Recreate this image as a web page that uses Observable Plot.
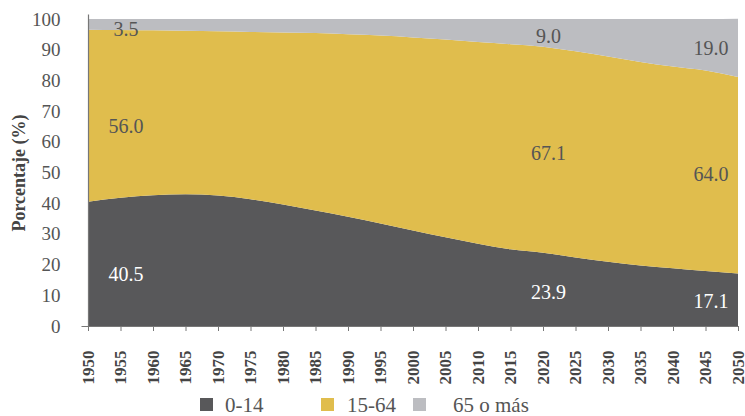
<!DOCTYPE html>
<html>
<head>
<meta charset="utf-8">
<script src="https://cdn.jsdelivr.net/npm/d3@7"></script>
<script src="https://cdn.jsdelivr.net/npm/@observablehq/plot@0.6"></script>
<style>
  body { margin: 0; background: #fff; font-family: "Liberation Serif", serif; }
  #chart { width: 745px; }
  .legend { position: relative; height: 30px; width: 745px; font-family: "Liberation Serif", serif; font-size: 21px; color: #555; }
  .legend .sw { position: absolute; width: 13px; height: 13px; top: 12px; }
  .legend .lb { position: absolute; top: 7px; line-height: 24px; white-space: nowrap; }
</style>
</head>
<body>
<div id="chart"></div>
<div class="legend" id="legend"></div>
<script>
const years = [1950,1955,1960,1965,1970,1975,1980,1985,1990,1995,2000,2005,2010,2015,2020,2025,2030,2035,2040,2045,2050];
const age0_14  = [40.5,41.8,42.6,42.9,42.5,41.3,39.6,37.6,35.6,33.4,31.1,28.9,26.8,25.0,23.9,22.3,20.9,19.7,18.8,17.9,17.1];
const age15_64 = [56.0,54.6,53.7,53.3,53.5,54.5,56.0,57.8,59.4,61.2,62.9,64.4,65.7,66.8,67.1,67.2,66.9,66.3,65.7,65.3,64.0];
const age65    = [3.5,3.6,3.7,3.8,4.0,4.2,4.4,4.6,5.0,5.4,6.0,6.7,7.5,8.2,9.0,10.5,12.2,14.0,15.5,16.8,19.0];
const groups = ["0-14", "15-64", "65 o más"];
const colors = ["#58585a", "#e0bd4d", "#bcbdc1"];
const labelYears = [1955, 2020, 2045];
const labelValues = {
  "0-14": [40.5, 23.9, 17.1],
  "15-64": [56.0, 67.1, 64.0],
  "65 o más": [3.5, 9.0, 19.0]
};
const yTicks = [0,10,20,30,40,50,60,70,80,90,100];
const yTitle = "Porcentaje (%)";

const seriesArrays = [age0_14, age15_64, age65];
const rows = years.flatMap((yr, i) => groups.map((g, k) => ({year: yr, group: g, value: seriesArrays[k][i]})));

const labelRows = years.flatMap((yr, i) => groups.map((g, k) => {
  const li = labelYears.indexOf(yr);
  return {year: yr, group: g, value: seriesArrays[k][i], label: li >= 0 ? labelValues[g][li].toFixed(1) : null};
}));

function labelMark(filterFn, dy) {
  return Plot.text(labelRows, Plot.stackY({
    x: "year", y: "value", z: "group",
    text: d => filterFn(d) ? d.label : null,
    fill: d => d.group === "0-14" ? "#ffffff" : "#555555",
    fontSize: 20,
    dx: 5, dy
  }));
}

const chart = Plot.plot({
  width: 745,
  height: 386,
  marginLeft: 88,
  marginRight: 7,
  marginTop: 19,
  marginBottom: 60,
  style: {fontFamily: "Liberation Serif, serif", background: "#fff"},
  x: {domain: [1950, 2050]},
  y: {domain: [0, 100]},
  color: {domain: groups, range: colors},
  marks: [
    Plot.areaY(rows, {x: "year", y: "value", fill: "group", curve: "monotone-x"}),
    labelMark(d => d.year === 1955 && d.group === "65 o más", 5),
    labelMark(d => d.year === 1955 && d.group !== "65 o más", 12),
    labelMark(d => d.year !== 1955, 3),
    Plot.ruleX([1950], {y1: 0, y2: 101.5, stroke: "#777", strokeWidth: 1.2}),
    Plot.ruleY([0], {x1: 1949, x2: 2050, stroke: "#777", strokeWidth: 1.2}),
    Plot.axisY({ticks: yTicks, tickSize: 0, tickPadding: 28, fontSize: 19, label: null, color: "#555"}),
    Plot.axisY({ticks: [0], tickSize: 6, tickFormat: () => "", label: null, stroke: "#777"}),
    Plot.axisX({ticks: years, tickFormat: d => String(d), tickSize: 5, tickPadding: 19, tickRotate: -90,
      fontSize: 17, fontWeight: "bold", label: null, color: "#444", stroke: "#777"}),
    Plot.axisY({ticks: [], label: yTitle, labelAnchor: "center", labelArrow: "none", labelOffset: 76, fontSize: 18, fontWeight: "bold", color: "#444"})
  ]
});
// make sure no scale arrow is appended to the axis title
chart.querySelectorAll("text").forEach(t => {
  if (t.textContent.includes("Porcentaje") && t.textContent !== yTitle) t.textContent = yTitle;
});
document.getElementById("chart").appendChild(chart);

const legend = document.getElementById("legend");
const swX = [200, 321, 413];
const lbX = [225, 347, 453];
groups.forEach((g, i) => {
  const s = document.createElement("div");
  s.className = "sw"; s.style.left = swX[i] + "px"; s.style.background = colors[i];
  legend.appendChild(s);
  const l = document.createElement("div");
  l.className = "lb"; l.style.left = lbX[i] + "px"; l.textContent = g;
  legend.appendChild(l);
});
</script>
</body>
</html>
